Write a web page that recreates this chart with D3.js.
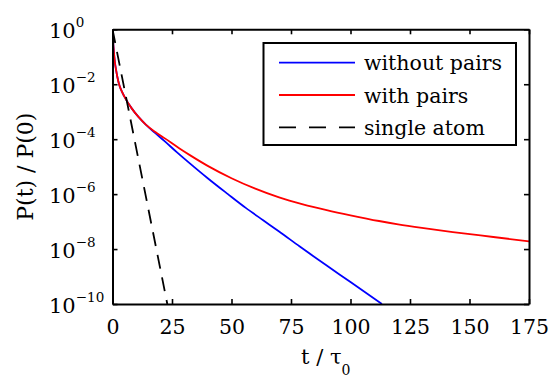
<!DOCTYPE html>
<html>
<head>
<meta charset="utf-8">
<script src="https://cdn.jsdelivr.net/npm/d3@7"></script>
<style>
  html, body { margin: 0; padding: 0; background: #fff; }
  svg { display: block; }
</style>
</head>
<body>
<svg id="chart" width="550" height="379"></svg>
<script>
// ---- data ----
const xTicks = [0, 25, 50, 75, 100, 125, 150, 175];
const yTickExponents = [0, -2, -4, -6, -8, -10];

// "without pairs" (blue)
const tWithout = [0, 0.3, 0.6, 1.0, 1.5, 2.0, 2.7, 3.5, 5, 8, 11, 14, 18, 22, 27, 32.5, 40, 48.5, 56, 63.3, 70, 78.7, 90, 100, 113.2];
const pWithout = [1, 3.16e-1, 1.41e-1, 6.31e-2, 3.31e-2, 1.91e-2, 1.05e-2, 6.61e-3, 3.55e-3, 1.35e-3, 6.31e-4, 3.39e-4,
                  1.66e-4, 8.32e-5, 3.39e-5, 1.32e-5, 3.80e-6, 1.0e-6, 3.16e-7, 1.12e-7, 4.37e-8, 1.23e-8, 2.51e-9, 6.31e-10, 1.0e-10];

// "with pairs" (red)
const tWith = [0, 0.3, 0.6, 1.0, 1.5, 2.0, 2.7, 3.5, 5, 8, 11, 14, 18, 22, 28, 32.5, 40, 50, 60, 70, 80, 90, 100, 112, 120, 130, 143, 160, 175];
const pWith = [1, 3.16e-1, 1.41e-1, 6.31e-2, 3.31e-2, 1.91e-2, 1.05e-2, 6.61e-3, 3.55e-3, 1.35e-3, 6.31e-4, 3.39e-4,
               1.82e-4, 1.07e-4, 4.68e-5, 2.63e-5, 1.07e-5, 3.80e-6, 1.58e-6, 7.59e-7, 4.27e-7, 2.63e-7, 1.70e-7,
               1.05e-7, 7.94e-8, 5.89e-8, 4.17e-8, 2.75e-8, 1.91e-8];

// "single atom" (black dashed)
const tSingle = [0, 23.03];
const pSingle = [1, 1e-10];

const seriesNames = ["without pairs", "with pairs", "single atom"];
const seriesColors = ["#0000ff", "#ff0000", "#000000"];

const FONT = "DejaVu Serif";

// ---- layout ----
const svg = d3.select("#chart");
const L = 112.5, R = 529, T = 29.3, B = 304;
const x = d3.scaleLinear().domain([0, 175]).range([L, R]);
const y = d3.scaleLog().domain([1e-10, 1]).range([B, T]);
const yTickVals = yTickExponents.map(e => Math.pow(10, e));

// clip
svg.append("defs").append("clipPath").attr("id", "clip")
  .append("rect").attr("x", L).attr("y", T).attr("width", R - L).attr("height", B - T);

// series
const series = [
  { t: tWithout, p: pWithout, color: seriesColors[0], dash: null },
  { t: tWith, p: pWith, color: seriesColors[1], dash: null },
  { t: tSingle, p: pSingle, color: seriesColors[2], dash: "14,9" }
];
const line = d3.line().x(d => x(d[0])).y(d => y(d[1])).curve(d3.curveMonotoneX);
const g = svg.append("g").attr("clip-path", "url(#clip)");
series.forEach(s => {
  g.append("path")
    .datum(s.t.map((t, i) => [t, s.p[i]]))
    .attr("d", line)
    .attr("fill", "none")
    .attr("stroke", s.color)
    .attr("stroke-width", 1.8)
    .attr("stroke-dasharray", s.dash);
});

// axes (ticks inward on all four sides)
function styleAxis(sel) {
  sel.select(".domain").attr("stroke", "#000").attr("stroke-width", 2);
  sel.selectAll(".tick line").attr("stroke", "#000").attr("stroke-width", 1.6);
}
const gx = svg.append("g").attr("transform", `translate(0,${B})`)
  .call(d3.axisBottom(x).tickValues(xTicks).tickSize(-5).tickSizeOuter(0).tickPadding(15).tickFormat(d3.format("d")));
styleAxis(gx);
gx.selectAll(".tick text")
  .attr("font-family", FONT).attr("font-size", 20.5)
  .attr("fill", "#000").attr("dy", "0.71em");

const gxt = svg.append("g").attr("transform", `translate(0,${T})`)
  .call(d3.axisTop(x).tickValues(xTicks).tickSize(-5).tickSizeOuter(0).tickFormat(""));
styleAxis(gxt);

const gy = svg.append("g").attr("transform", `translate(${L},0)`)
  .call(d3.axisLeft(y).tickValues(yTickVals).tickSize(-5).tickSizeOuter(0).tickFormat(""));
styleAxis(gy);

const gyr = svg.append("g").attr("transform", `translate(${R},0)`)
  .call(d3.axisRight(y).tickValues(yTickVals).tickSize(-5).tickSizeOuter(0).tickFormat(""));
styleAxis(gyr);

// y tick labels: 10^e
yTickExponents.forEach(e => {
  const t = svg.append("text")
    .attr("x", 49)
    .attr("y", y(Math.pow(10, e)) + 9)
    .attr("font-family", FONT)
    .attr("font-size", 21);
  t.append("tspan").attr("font-family", FONT).text("10");
  t.append("tspan").attr("font-family", FONT).attr("font-size", 13.5).attr("dy", -11)
    .text(e === 0 ? "0" : "\u2212" + Math.abs(e));
});

// axis labels
const xl = svg.append("text")
  .attr("x", (L + R) / 2 + 5)
  .attr("y", 364)
  .attr("text-anchor", "middle")
  .attr("font-family", FONT)
  .attr("font-size", 21);
xl.append("tspan").attr("font-family", FONT).text("t / \u03C4");
xl.append("tspan").attr("font-family", FONT).attr("font-size", 14).attr("dy", 11).text("0");

svg.append("text")
  .attr("transform", `translate(33,${(T + B) / 2}) rotate(-90)`)
  .attr("text-anchor", "middle")
  .attr("font-family", FONT)
  .attr("font-size", 22)
  .text("P(t) / P(0)");

// legend
const lg = svg.append("g");
lg.append("rect")
  .attr("x", 263.5).attr("y", 43).attr("width", 252.5).attr("height", 102)
  .attr("fill", "#fff").attr("stroke", "#000").attr("stroke-width", 2);
const rowY = [62.7, 95, 127.3];
series.forEach((s, i) => {
  lg.append("line")
    .attr("x1", 279).attr("x2", 355)
    .attr("y1", rowY[i]).attr("y2", rowY[i])
    .attr("stroke", s.color).attr("stroke-width", 1.8)
    .attr("stroke-dasharray", s.dash ? "17,13" : null);
  lg.append("text")
    .attr("x", 364).attr("y", rowY[i] + 7.5)
    .attr("font-family", FONT)
    .attr("font-size", 20.5)
    .text(seriesNames[i]);
});
</script>
</body>
</html>
